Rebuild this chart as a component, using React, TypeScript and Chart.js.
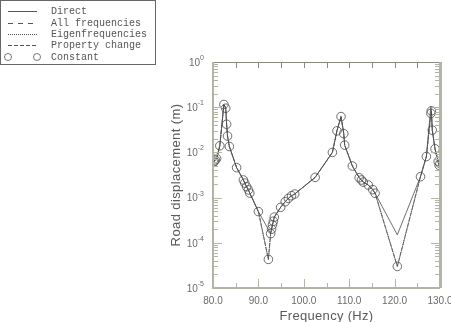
import React, { useEffect, useRef } from "react";
import { Chart, registerables } from "chart.js";

Chart.register(...registerables);

// Frequencies (Hz) of the computed points
const freqs = [
  80.1, 80.3, 80.5, 80.8, 81.5, 82.4, 82.8, 83.0, 83.2, 83.6, 85.2,
  86.7, 87.0, 87.4, 87.8, 88.1, 90.0, 92.2, 92.7, 92.9, 93.1, 93.3, 93.5,
  94.9, 95.9, 96.6, 97.3, 98.0, 102.5, 106.3, 107.3, 108.2, 108.8, 109.0,
  110.7, 112.2, 112.7, 113.1, 114.2, 115.2, 115.7, 120.6, 125.7, 127.0,
  128.0, 128.1, 128.3, 128.9, 129.6, 129.8, 130.0,
];
// "Constant" circles / property-change curves (m)
const constantVals = [
  6.0e-3, 6.4e-3, 6.8e-3, 7.3e-3, 1.4e-2, 1.15e-1, 9.5e-2, 4.2e-2, 2.3e-2, 1.35e-2, 4.6e-3,
  2.45e-3, 2.1e-3, 1.74e-3, 1.48e-3, 1.26e-3, 4.9e-4, 4.3e-5, 1.6e-4, 2.0e-4, 2.5e-4, 3.0e-4, 3.7e-4,
  6.1e-4, 8.1e-4, 9.6e-4, 1.1e-3, 1.2e-3, 2.8e-3, 1.0e-2, 3.0e-2, 6.2e-2, 2.6e-2, 1.45e-2,
  5.0e-3, 2.75e-3, 2.45e-3, 2.2e-3, 1.9e-3, 1.5e-3, 1.25e-3, 3.0e-5, 2.9e-3, 8.1e-3,
  7.3e-2, 8.3e-2, 3.1e-2, 1.2e-2, 6.3e-3, 5.2e-3, 5.7e-3,
];
// "Direct" curve (m); null = not computed at that frequency
const directVals = [
  6.0e-3, 6.4e-3, 6.8e-3, 7.3e-3, 1.4e-2, 1.15e-1, 9.5e-2, 4.2e-2, 2.3e-2, 1.35e-2, 4.6e-3,
  2.45e-3, 2.1e-3, 1.74e-3, 1.48e-3, 1.26e-3, 4.9e-4, null, 1.6e-4, 2.0e-4, 2.5e-4, 3.0e-4, 3.7e-4,
  6.1e-4, 8.1e-4, 9.6e-4, 1.1e-3, 1.2e-3, 2.8e-3, 1.0e-2, 3.0e-2, 6.2e-2, 2.6e-2, 1.45e-2,
  5.0e-3, 2.75e-3, 2.45e-3, 2.2e-3, 1.9e-3, 1.5e-3, 1.25e-3, 1.5e-4, 2.9e-3, 8.1e-3,
  1.05e-1, 8.3e-2, 3.1e-2, 1.2e-2, 6.3e-3, 5.2e-3, 5.7e-3,
];

const xMajorTicks = [80, 90, 100, 110, 120, 130];
const xMinorTicks = [85, 95, 105, 115, 125];
const xTickLabels = ["80.0", "90.0", "100.0", "110.0", "120.0", "130.0"];
const yDecades = [0, -1, -2, -3, -4, -5];

const legendLabels = ["Direct", "All frequencies", "Eigenfrequencies", "Property change", "Constant"];

const LINE = "#4a4a4a";
const AXIS = "#b4b4a6";
const TEXT = "#6a6a6a";

const pts = (vals: (number | null)[]) => freqs.map((f, i) => ({ x: f, y: vals[i] }));

const decorPlugin = {
  id: "decor",
  afterDraw(chart: any) {
    const ctx = chart.ctx as CanvasRenderingContext2D;
    const { left, right, top, bottom } = chart.chartArea;
    const xs = chart.scales.x;
    const ys = chart.scales.y;
    ctx.save();

    // frame
    ctx.strokeStyle = "#8a8a80";
    ctx.lineWidth = 1;
    ctx.beginPath();
    ctx.moveTo(left, top + 0.5);
    ctx.lineTo(right, top + 0.5);
    ctx.stroke();
    ctx.strokeStyle = AXIS;
    ctx.lineWidth = 2;
    ctx.beginPath();
    ctx.moveTo(left, top);
    ctx.lineTo(left, bottom);
    ctx.lineTo(right, bottom);
    ctx.stroke();
    ctx.lineWidth = 3;
    ctx.beginPath();
    ctx.moveTo(right + 0.5, top);
    ctx.lineTo(right + 0.5, bottom);
    ctx.stroke();

    // x ticks
    ctx.lineWidth = 1;
    ctx.strokeStyle = AXIS;
    const xTick = (v: number, lenB: number, lenT: number) => {
      const px = Math.round(xs.getPixelForValue(v)) + 0.5;
      ctx.beginPath();
      ctx.moveTo(px, bottom);
      ctx.lineTo(px, bottom - lenB);
      ctx.stroke();
      ctx.strokeStyle = "#8a8a80";
      ctx.beginPath();
      ctx.moveTo(px, top);
      ctx.lineTo(px, top + lenT);
      ctx.stroke();
      ctx.strokeStyle = AXIS;
    };
    xMajorTicks.slice(1, -1).forEach((v) => xTick(v, 9, 6));
    xMinorTicks.forEach((v) => xTick(v, 5, 6));

    // y ticks (log)
    for (let d = -5; d < 0; d++) {
      for (let m = 1; m <= 9; m++) {
        const v = m * Math.pow(10, d);
        const py = Math.round(ys.getPixelForValue(v)) + 0.5;
        const len = m === 1 ? 9 : 5;
        if (m === 1 && d === -5) continue;
        ctx.beginPath();
        ctx.moveTo(left, py);
        ctx.lineTo(left + len, py);
        ctx.moveTo(right, py);
        ctx.lineTo(right - len, py);
        ctx.stroke();
      }
    }

    // x tick labels
    ctx.fillStyle = TEXT;
    ctx.font = '10px "Liberation Sans", Arial, sans-serif';
    ctx.textAlign = "center";
    ctx.textBaseline = "middle";
    xMajorTicks.forEach((v, i) => {
      ctx.fillText(xTickLabels[i], xs.getPixelForValue(v), bottom + 13);
    });

    // y tick labels 10^n
    yDecades.forEach((d) => {
      const py = ys.getPixelForValue(Math.pow(10, d));
      const sup = String(d);
      ctx.font = '7px "Liberation Sans", Arial, sans-serif';
      const sw = ctx.measureText(sup).width;
      ctx.textAlign = "right";
      ctx.fillText(sup, left - 9, py - 4);
      ctx.font = '10px "Liberation Sans", Arial, sans-serif';
      ctx.fillText("10", left - 9 - sw, py + 1);
    });

    // axis titles
    ctx.fillStyle = "#5a5a5a";
    ctx.font = '13px "Liberation Sans", Arial, sans-serif';
    ctx.textAlign = "center";
    (ctx as any).letterSpacing = "0.3px";
    ctx.fillText("Frequency (Hz)", (left + right) / 2, bottom + 28);
    ctx.save();
    ctx.translate(176, (top + bottom) / 2);
    ctx.rotate(-Math.PI / 2);
    (ctx as any).letterSpacing = "0.4px";
    ctx.fillText("Road displacement (m)", 0, 0);
    ctx.restore();
    (ctx as any).letterSpacing = "0px";

    // legend box
    ctx.strokeStyle = "#666666";
    ctx.lineWidth = 1;
    ctx.strokeRect(0.5, 0.5, 155, 64);
    const rows = [11, 23, 34, 45, 57];
    const dashes = [[], [5, 5], [1, 1], [4, 2]];
    ctx.strokeStyle = "#555555";
    dashes.forEach((dsh, i) => {
      ctx.setLineDash(dsh);
      ctx.beginPath();
      ctx.moveTo(8, rows[i] + 0.5);
      ctx.lineTo(37, rows[i] + 0.5);
      ctx.stroke();
    });
    ctx.setLineDash([]);
    ctx.lineWidth = 0.8;
    [8, 37].forEach((cx) => {
      ctx.beginPath();
      ctx.arc(cx, rows[4], 3.5, 0, Math.PI * 2);
      ctx.stroke();
    });
    ctx.fillStyle = "#555555";
    ctx.font = '10px "Liberation Mono", "DejaVu Sans Mono", monospace';
    ctx.textAlign = "left";
    legendLabels.forEach((t, i) => ctx.fillText(t, 51, rows[i]));

    ctx.restore();
  },
};

export default function App() {
  const ref = useRef<HTMLCanvasElement | null>(null);
  useEffect(() => {
    document.body.style.margin = "0";
    const canvas = ref.current!;
    const lineDs = (label: string, vals: (number | null)[], dash: number[], w: number) => ({
      label,
      data: pts(vals),
      borderColor: LINE,
      borderWidth: w,
      borderDash: dash,
      pointRadius: 0,
      fill: false,
      tension: 0,
      spanGaps: true,
    });
    const chart = new Chart(canvas, {
      type: "line",
      data: {
        datasets: [
          lineDs("Direct", directVals, [], 0.8),
          lineDs("All frequencies", constantVals, [5, 1], 0.7),
          lineDs("Eigenfrequencies", constantVals, [1, 1], 0.5),
          lineDs("Property change", constantVals, [4, 1], 0.5),
          {
            label: "Constant",
            data: pts(constantVals),
            showLine: false,
            pointRadius: 4.3,
            pointBorderWidth: 0.8,
            pointBorderColor: LINE,
            pointBackgroundColor: "rgba(0,0,0,0)",
            pointStyle: "circle",
          },
        ],
      },
      options: {
        animation: false,
        responsive: false,
        layout: { padding: { left: 213, right: 11, top: 62, bottom: 34 } },
        scales: {
          x: { type: "linear", min: 80, max: 130, display: false },
          y: { type: "logarithmic", min: 1e-5, max: 1, display: false },
        },
        plugins: { legend: { display: false }, tooltip: { enabled: false } },
        events: [],
      },
      plugins: [decorPlugin],
    } as any);
    return () => chart.destroy();
  }, []);
  return (
    <div style={{ position: "fixed", left: 0, top: 0, width: 451, height: 322, background: "#fff" }}>
      <canvas ref={ref} width={451} height={322} />
    </div>
  );
}
